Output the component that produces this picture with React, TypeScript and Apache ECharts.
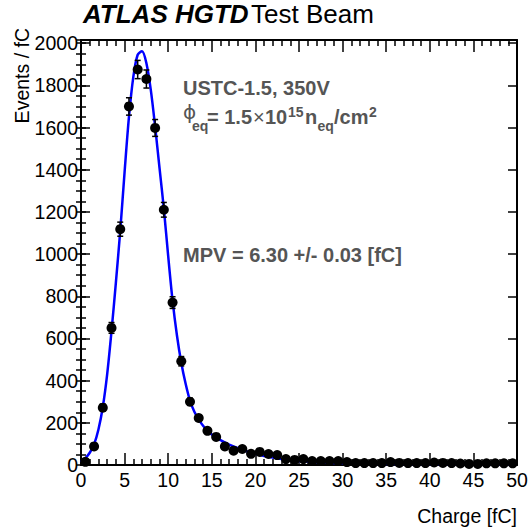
import React, { useEffect, useRef } from "react";
import * as echarts from "echarts";

// ---- data ----
const binCenters = [
  0.5, 1.5, 2.5, 3.5, 4.5, 5.5, 6.5, 7.5, 8.5, 9.5,
  10.5, 11.5, 12.5, 13.5, 14.5, 15.5, 16.5, 17.5, 18.5, 19.5,
  20.5, 21.5, 22.5, 23.5, 24.5, 25.5, 26.5, 27.5, 28.5, 29.5,
  30.5, 31.5, 32.5, 33.5, 34.5, 35.5, 36.5, 37.5, 38.5, 39.5,
  40.5, 41.5, 42.5, 43.5, 44.5, 45.5, 46.5, 47.5, 48.5, 49.5,
];
const counts = [
  15, 88, 272, 650, 1118, 1700, 1875, 1830, 1598, 1210,
  770, 492, 300, 223, 162, 133, 88, 68, 76, 53,
  62, 52, 47, 28, 24, 28, 19, 19, 19, 19,
  14, 9, 9, 9, 9, 14, 10, 9, 9, 9,
  12, 10, 9, 7, 5, 5, 8, 8, 8, 8,
];
const countErrors = [
  3.9, 9.4, 16.5, 25.5, 33.4, 41.2, 43.3, 42.8, 40.0, 34.8,
  27.7, 22.2, 17.3, 14.9, 12.7, 11.5, 9.4, 8.2, 8.7, 7.3,
  7.9, 7.2, 6.9, 5.3, 4.9, 5.3, 4.4, 4.4, 4.4, 4.4,
  3.7, 3.0, 3.0, 3.0, 3.0, 3.7, 3.2, 3.0, 3.0, 3.0,
  3.5, 3.2, 3.0, 2.6, 2.2, 2.2, 2.8, 2.8, 2.8, 2.8,
];
const fitX = [
  0, 0.5, 1, 1.5, 2, 2.5, 3, 3.5, 4, 4.5, 5, 5.5, 6, 6.5, 7, 7.5, 8, 8.5, 9, 9.5,
  10, 10.5, 11, 11.5, 12, 12.5, 13, 13.5, 14, 14.5, 15, 16, 17, 18, 19, 20,
  21, 22, 23, 24, 25, 26, 27, 28, 30, 32, 34, 37, 40, 45, 50,
];
const fitY = [
  14, 32, 58, 98, 168, 275, 430, 635, 865, 1110, 1390, 1650, 1840, 1945, 1962, 1905, 1780, 1605, 1410, 1215,
  990, 780, 615, 485, 385, 305, 252, 215, 186, 163, 145, 118, 97, 80, 65, 53,
  43, 35, 28, 23, 19, 16, 13, 11, 8, 6.5, 5.2, 4.2, 3.6, 3.0, 2.6,
];
const xRange = [0, 50];
const yRange = [0, 2015];
const xMajorStep = 5;
const yMajorStep = 200;
const yMinorStep = 50;

const titleBold = "ATLAS HGTD";
const titleRest = "Test Beam";
const xTitle = "Charge [fC]";
const yTitle = "Events / fC";
const deviceLabel = "USTC-1.5, 350V";
const mpvLabel = "MPV = 6.30 +/- 0.03 [fC]";

const FONT = '"Liberation Sans", Arial, Helvetica, sans-serif';
const GRAY = "#555555";

function txt(
  text: string,
  x: number,
  baseline: number,
  size: number,
  opts: any = {}
) {
  return {
    type: "text",
    x,
    y: baseline - 0.35 * size,
    z: 100,
    silent: true,
    style: {
      text,
      fontSize: size,
      fontFamily: opts.family || FONT,
      fontWeight: opts.weight || "normal",
      fontStyle: opts.style || "normal",
      fill: opts.color || "#000",
      align: opts.align || "left",
      textAlign: opts.align || "left",
      verticalAlign: "middle",
      textVerticalAlign: "middle",
    },
  };
}

export default function App() {
  const ref = useRef<HTMLDivElement>(null);

  useEffect(() => {
    document.body.style.margin = "0";
    if (!ref.current) return;
    const chart = echarts.init(ref.current, undefined, { renderer: "svg" });

    const axisLine = { show: true, onZero: false, lineStyle: { color: "#000", width: 2 } };
    const noSplit = { show: false };

    const xBase = {
      type: "value",
      min: xRange[0],
      max: xRange[1],
      interval: xMajorStep,
      splitLine: noSplit,
      axisLine,
      axisTick: { show: true, inside: true, length: 12, lineStyle: { color: "#000", width: 1.5 } },
      minorTick: { show: true, splitNumber: 5, length: 6, lineStyle: { color: "#000", width: 1.5 } },
      minorSplitLine: { show: false },
    };

    const yMajor = (pos: string, labels: boolean) => ({
      type: "value",
      position: pos,
      offset: 0,
      min: yRange[0],
      max: yRange[1],
      interval: yMajorStep,
      splitLine: noSplit,
      axisLine,
      axisTick: { show: true, inside: true, length: 9, lineStyle: { color: "#000", width: 1.5 } },
      axisLabel: labels
        ? {
            show: true,
            margin: 3,
            fontSize: 19.5,
            fontFamily: FONT,
            color: "#000",
            formatter: (v: number) => (v % yMajorStep === 0 ? String(v) : ""),
          }
        : { show: false },
    });
    const yMinor = (pos: string) => ({
      type: "value",
      position: pos,
      offset: 0,
      min: yRange[0],
      max: yRange[1],
      interval: yMinorStep,
      splitLine: noSplit,
      axisLine: { show: false },
      axisTick: { show: true, inside: true, length: 5, lineStyle: { color: "#000", width: 1.5 } },
      axisLabel: { show: false },
    });

    const phiBase = 124;
    const subBase = 131;
    const supBase = 117;

    chart.setOption({
      animation: false,
      backgroundColor: "#fff",
      grid: { left: 81, right: 11, top: 40, bottom: 67, containLabel: false, outerBoundsMode: "none" },
      xAxis: [
        {
          ...xBase,
          position: "bottom",
          axisLabel: { show: true, margin: 5, fontSize: 19.5, fontFamily: FONT, color: "#000" },
        },
        { ...xBase, position: "top", axisLabel: { show: false } },
      ],
      yAxis: [yMajor("left", true), yMinor("left"), yMajor("right", false), yMinor("right")],
      graphic: [
        txt(titleBold, 83, 23.5, 26, { weight: "bold", style: "italic" }),
        txt(titleRest, 251, 23.5, 26),
        txt(xTitle, 517, 523, 19.5, { align: "right" }),
        {
          type: "text",
          x: 22,
          y: 28,
          rotation: Math.PI / 2,
          z: 100,
          silent: true,
          style: {
            text: yTitle,
            fontSize: 19.5,
            fontFamily: FONT,
            fill: "#000",
            align: "right",
            textAlign: "right",
            verticalAlign: "middle",
            textVerticalAlign: "middle",
          },
        },
        txt(deviceLabel, 183, 95, 20, { weight: "bold", color: GRAY }),
        txt("\u03D5", 183, 119, 20, { color: GRAY, family: '"DejaVu Sans", ' + FONT }),
        txt("eq", 192, subBase, 14, { weight: "bold", color: GRAY }),
        txt("= 1.5", 207, phiBase, 20, { weight: "bold", color: GRAY }),
        txt("\u00D7", 253, phiBase, 20, { color: GRAY }),
        txt("10", 265, phiBase, 20, { weight: "bold", color: GRAY }),
        txt("15", 288, supBase, 14, { weight: "bold", color: GRAY }),
        txt("n", 305, phiBase, 20, { weight: "bold", color: GRAY }),
        txt("eq", 317.5, subBase, 14, { weight: "bold", color: GRAY }),
        txt("/cm", 334, phiBase, 20, { weight: "bold", color: GRAY }),
        txt("2", 369, supBase, 14, { weight: "bold", color: GRAY }),
        txt(mpvLabel, 183, 262, 20, { weight: "bold", color: GRAY }),
      ],
      series: [
        {
          type: "line",
          xAxisIndex: 0,
          yAxisIndex: 0,
          data: fitX.map((x, i) => [x, fitY[i]]),
          smooth: 0.3,
          symbol: "none",
          showSymbol: false,
          lineStyle: { color: "#0000ff", width: 2.5 },
          z: 2,
          silent: true,
        },
        {
          type: "custom",
          xAxisIndex: 0,
          yAxisIndex: 0,
          z: 3,
          silent: true,
          data: binCenters.map((x, i) => [x, counts[i], countErrors[i]]),
          renderItem: (params: any, api: any) => {
            const x = api.value(0);
            const y = api.value(1);
            const e = api.value(2);
            const top = api.coord([x, y + e]);
            const bot = api.coord([x, y - e]);
            const st = { stroke: "#000", lineWidth: 1.5 };
            return {
              type: "group",
              children: [
                { type: "line", shape: { x1: top[0], y1: top[1], x2: bot[0], y2: bot[1] }, style: st },
                { type: "line", shape: { x1: top[0] - 3, y1: top[1], x2: top[0] + 3, y2: top[1] }, style: st },
                { type: "line", shape: { x1: bot[0] - 3, y1: bot[1], x2: bot[0] + 3, y2: bot[1] }, style: st },
              ],
            };
          },
        },
        {
          type: "scatter",
          xAxisIndex: 0,
          yAxisIndex: 0,
          data: binCenters.map((x, i) => [x, counts[i]]),
          symbol: "circle",
          symbolSize: 10,
          itemStyle: { color: "#000", opacity: 1 },
          z: 4,
          silent: true,
        },
      ],
    });

    return () => chart.dispose();
  }, []);

  return <div ref={ref} style={{ width: 528, height: 532 }} />;
}
